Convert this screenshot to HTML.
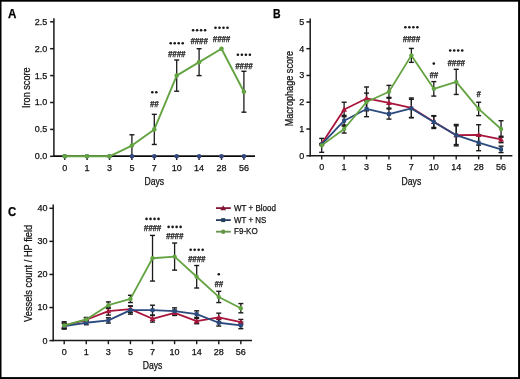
<!DOCTYPE html><html><head><meta charset="utf-8"><style>html,body{margin:0;padding:0;background:#fff;overflow:hidden;}svg{display:block;font-family:"Liberation Sans",sans-serif;will-change:transform;}</style></head><body>
<svg width="520" height="379" viewBox="0 0 520 379">
<rect x="0" y="0" width="520" height="379" fill="#fff"/>
<text x="12.1" y="18" font-size="12.5" text-anchor="middle" font-weight="bold" textLength="8.4" lengthAdjust="spacingAndGlyphs" fill="#000" stroke="#000" stroke-width="0.25" >A</text>
<line x1="53.9" y1="18.3" x2="53.9" y2="157" stroke="#1a1a1a" stroke-width="1.5" stroke-linecap="butt"/>
<line x1="50.1" y1="156.3" x2="53.9" y2="156.3" stroke="#1a1a1a" stroke-width="1.5" stroke-linecap="butt"/>
<text x="47.3" y="159.2" font-size="9" text-anchor="end" stroke="#262626" stroke-width="0.25" >0.0</text>
<line x1="50.1" y1="129.4" x2="53.9" y2="129.4" stroke="#1a1a1a" stroke-width="1.5" stroke-linecap="butt"/>
<text x="47.3" y="132.3" font-size="9" text-anchor="end" stroke="#262626" stroke-width="0.25" >0.5</text>
<line x1="50.1" y1="102.5" x2="53.9" y2="102.5" stroke="#1a1a1a" stroke-width="1.5" stroke-linecap="butt"/>
<text x="47.3" y="105.4" font-size="9" text-anchor="end" stroke="#262626" stroke-width="0.25" >1.0</text>
<line x1="50.1" y1="75.6" x2="53.9" y2="75.6" stroke="#1a1a1a" stroke-width="1.5" stroke-linecap="butt"/>
<text x="47.3" y="78.5" font-size="9" text-anchor="end" stroke="#262626" stroke-width="0.25" >1.5</text>
<line x1="50.1" y1="48.7" x2="53.9" y2="48.7" stroke="#1a1a1a" stroke-width="1.5" stroke-linecap="butt"/>
<text x="47.3" y="51.6" font-size="9" text-anchor="end" stroke="#262626" stroke-width="0.25" >2.0</text>
<line x1="50.1" y1="21.8" x2="53.9" y2="21.8" stroke="#1a1a1a" stroke-width="1.5" stroke-linecap="butt"/>
<text x="47.3" y="24.7" font-size="9" text-anchor="end" stroke="#262626" stroke-width="0.25" >2.5</text>
<line x1="53.15" y1="156.3" x2="255" y2="156.3" stroke="#1a1a1a" stroke-width="1.5" stroke-linecap="butt"/>
<line x1="64.7" y1="156.3" x2="64.7" y2="159.9" stroke="#1a1a1a" stroke-width="1.4" stroke-linecap="butt"/>
<text x="64.7" y="170.9" font-size="9" text-anchor="middle" stroke="#262626" stroke-width="0.25" >0</text>
<line x1="87.1" y1="156.3" x2="87.1" y2="159.9" stroke="#1a1a1a" stroke-width="1.4" stroke-linecap="butt"/>
<text x="87.1" y="170.9" font-size="9" text-anchor="middle" stroke="#262626" stroke-width="0.25" >1</text>
<line x1="109.5" y1="156.3" x2="109.5" y2="159.9" stroke="#1a1a1a" stroke-width="1.4" stroke-linecap="butt"/>
<text x="109.5" y="170.9" font-size="9" text-anchor="middle" stroke="#262626" stroke-width="0.25" >3</text>
<line x1="131.9" y1="156.3" x2="131.9" y2="159.9" stroke="#1a1a1a" stroke-width="1.4" stroke-linecap="butt"/>
<text x="131.9" y="170.9" font-size="9" text-anchor="middle" stroke="#262626" stroke-width="0.25" >5</text>
<line x1="154.3" y1="156.3" x2="154.3" y2="159.9" stroke="#1a1a1a" stroke-width="1.4" stroke-linecap="butt"/>
<text x="154.3" y="170.9" font-size="9" text-anchor="middle" stroke="#262626" stroke-width="0.25" >7</text>
<line x1="176.7" y1="156.3" x2="176.7" y2="159.9" stroke="#1a1a1a" stroke-width="1.4" stroke-linecap="butt"/>
<text x="176.7" y="170.9" font-size="9" text-anchor="middle" stroke="#262626" stroke-width="0.25" >10</text>
<line x1="199.1" y1="156.3" x2="199.1" y2="159.9" stroke="#1a1a1a" stroke-width="1.4" stroke-linecap="butt"/>
<text x="199.1" y="170.9" font-size="9" text-anchor="middle" stroke="#262626" stroke-width="0.25" >14</text>
<line x1="221.5" y1="156.3" x2="221.5" y2="159.9" stroke="#1a1a1a" stroke-width="1.4" stroke-linecap="butt"/>
<text x="221.5" y="170.9" font-size="9" text-anchor="middle" stroke="#262626" stroke-width="0.25" >28</text>
<line x1="243.9" y1="156.3" x2="243.9" y2="159.9" stroke="#1a1a1a" stroke-width="1.4" stroke-linecap="butt"/>
<text x="243.9" y="170.9" font-size="9" text-anchor="middle" stroke="#262626" stroke-width="0.25" >56</text>
<text x="154.3" y="185" font-size="10" text-anchor="middle" textLength="19.7" lengthAdjust="spacingAndGlyphs" stroke="#262626" stroke-width="0.25" >Days</text>
<text x="29.6" y="87.7" font-size="10" text-anchor="middle" textLength="40.6" lengthAdjust="spacingAndGlyphs" transform="rotate(-90 29.6 87.7)" stroke="#262626" stroke-width="0.25" >Iron score</text>
<line x1="131.9" y1="134.78" x2="131.9" y2="156.3" stroke="#1a1a1a" stroke-width="1.3" stroke-linecap="butt"/>
<line x1="129.4" y1="134.78" x2="134.4" y2="134.78" stroke="#1a1a1a" stroke-width="1.4" stroke-linecap="butt"/>
<line x1="129.4" y1="156.3" x2="134.4" y2="156.3" stroke="#1a1a1a" stroke-width="1.4" stroke-linecap="butt"/>
<line x1="154.3" y1="114.34" x2="154.3" y2="144.46" stroke="#1a1a1a" stroke-width="1.3" stroke-linecap="butt"/>
<line x1="151.8" y1="114.34" x2="156.8" y2="114.34" stroke="#1a1a1a" stroke-width="1.4" stroke-linecap="butt"/>
<line x1="151.8" y1="144.46" x2="156.8" y2="144.46" stroke="#1a1a1a" stroke-width="1.4" stroke-linecap="butt"/>
<line x1="176.7" y1="60" x2="176.7" y2="91.2" stroke="#1a1a1a" stroke-width="1.3" stroke-linecap="butt"/>
<line x1="174.2" y1="60" x2="179.2" y2="60" stroke="#1a1a1a" stroke-width="1.4" stroke-linecap="butt"/>
<line x1="174.2" y1="91.2" x2="179.2" y2="91.2" stroke="#1a1a1a" stroke-width="1.4" stroke-linecap="butt"/>
<line x1="199.1" y1="48.7" x2="199.1" y2="75.6" stroke="#1a1a1a" stroke-width="1.3" stroke-linecap="butt"/>
<line x1="196.6" y1="48.7" x2="201.6" y2="48.7" stroke="#1a1a1a" stroke-width="1.4" stroke-linecap="butt"/>
<line x1="196.6" y1="75.6" x2="201.6" y2="75.6" stroke="#1a1a1a" stroke-width="1.4" stroke-linecap="butt"/>
<line x1="243.9" y1="71.3" x2="243.9" y2="112.18" stroke="#1a1a1a" stroke-width="1.3" stroke-linecap="butt"/>
<line x1="241.4" y1="71.3" x2="246.4" y2="71.3" stroke="#1a1a1a" stroke-width="1.4" stroke-linecap="butt"/>
<line x1="241.4" y1="112.18" x2="246.4" y2="112.18" stroke="#1a1a1a" stroke-width="1.4" stroke-linecap="butt"/>
<line x1="53.9" y1="156.3" x2="255" y2="156.3" stroke="#0a0a0a" stroke-width="1.6" stroke-linecap="butt"/>
<circle cx="64.7" cy="156.3" r="2.3" fill="#34467e"/>
<circle cx="87.1" cy="156.3" r="2.3" fill="#34467e"/>
<circle cx="109.5" cy="156.3" r="2.3" fill="#34467e"/>
<circle cx="131.9" cy="156.3" r="2.3" fill="#34467e"/>
<circle cx="154.3" cy="156.3" r="2.3" fill="#34467e"/>
<circle cx="176.7" cy="156.3" r="2.3" fill="#34467e"/>
<circle cx="199.1" cy="156.3" r="2.3" fill="#34467e"/>
<circle cx="221.5" cy="156.3" r="2.3" fill="#34467e"/>
<circle cx="243.9" cy="156.3" r="2.3" fill="#34467e"/>
<polyline points="64.7,156.3 87.1,156.3 109.5,156.3 131.9,145.54 154.3,129.4 176.7,75.6 199.1,62.15 221.5,48.7 243.9,91.74" fill="none" stroke="#64a342" stroke-width="1.9" stroke-linejoin="round"/>
<circle cx="64.7" cy="156.3" r="2.3" fill="#64a342"/>
<circle cx="87.1" cy="156.3" r="2.3" fill="#64a342"/>
<circle cx="109.5" cy="156.3" r="2.3" fill="#64a342"/>
<circle cx="131.9" cy="145.54" r="2.3" fill="#64a342"/>
<circle cx="154.3" cy="129.4" r="2.3" fill="#64a342"/>
<circle cx="176.7" cy="75.6" r="2.3" fill="#64a342"/>
<circle cx="199.1" cy="62.15" r="2.3" fill="#64a342"/>
<circle cx="221.5" cy="48.7" r="2.3" fill="#64a342"/>
<circle cx="243.9" cy="91.74" r="2.3" fill="#64a342"/>
<circle cx="152.3" cy="92.2" r="1.3" fill="#151515"/>
<circle cx="156.3" cy="92.2" r="1.3" fill="#151515"/>
<text x="154.3" y="106.62" font-size="8.4" text-anchor="middle" textLength="8.6" lengthAdjust="spacingAndGlyphs" fill="#1a1a1a" stroke="#1a1a1a" stroke-width="0.25" font-style="italic" font-weight="bold">##</text>
<circle cx="170.7" cy="43.3" r="1.3" fill="#151515"/>
<circle cx="174.7" cy="43.3" r="1.3" fill="#151515"/>
<circle cx="178.7" cy="43.3" r="1.3" fill="#151515"/>
<circle cx="182.7" cy="43.3" r="1.3" fill="#151515"/>
<text x="176.7" y="56.92" font-size="8.4" text-anchor="middle" textLength="17.4" lengthAdjust="spacingAndGlyphs" fill="#1a1a1a" stroke="#1a1a1a" stroke-width="0.25" font-style="italic" font-weight="bold">####</text>
<circle cx="193.1" cy="30.2" r="1.3" fill="#151515"/>
<circle cx="197.1" cy="30.2" r="1.3" fill="#151515"/>
<circle cx="201.1" cy="30.2" r="1.3" fill="#151515"/>
<circle cx="205.1" cy="30.2" r="1.3" fill="#151515"/>
<text x="199.1" y="44.32" font-size="8.4" text-anchor="middle" textLength="17.4" lengthAdjust="spacingAndGlyphs" fill="#1a1a1a" stroke="#1a1a1a" stroke-width="0.25" font-style="italic" font-weight="bold">####</text>
<circle cx="215.5" cy="27.8" r="1.3" fill="#151515"/>
<circle cx="219.5" cy="27.8" r="1.3" fill="#151515"/>
<circle cx="223.5" cy="27.8" r="1.3" fill="#151515"/>
<circle cx="227.5" cy="27.8" r="1.3" fill="#151515"/>
<text x="221.5" y="41.92" font-size="8.4" text-anchor="middle" textLength="17.4" lengthAdjust="spacingAndGlyphs" fill="#1a1a1a" stroke="#1a1a1a" stroke-width="0.25" font-style="italic" font-weight="bold">####</text>
<circle cx="237.9" cy="54.7" r="1.3" fill="#151515"/>
<circle cx="241.9" cy="54.7" r="1.3" fill="#151515"/>
<circle cx="245.9" cy="54.7" r="1.3" fill="#151515"/>
<circle cx="249.9" cy="54.7" r="1.3" fill="#151515"/>
<text x="243.9" y="68.92" font-size="8.4" text-anchor="middle" textLength="17.4" lengthAdjust="spacingAndGlyphs" fill="#1a1a1a" stroke="#1a1a1a" stroke-width="0.25" font-style="italic" font-weight="bold">####</text>
<text x="276.8" y="18" font-size="12.5" text-anchor="middle" font-weight="bold" textLength="7.6" lengthAdjust="spacingAndGlyphs" fill="#000" stroke="#000" stroke-width="0.25" >B</text>
<line x1="310.2" y1="18.4" x2="310.2" y2="156.5" stroke="#1a1a1a" stroke-width="1.5" stroke-linecap="butt"/>
<line x1="306.4" y1="155.8" x2="310.2" y2="155.8" stroke="#1a1a1a" stroke-width="1.5" stroke-linecap="butt"/>
<text x="304.2" y="158.7" font-size="9" text-anchor="end" stroke="#262626" stroke-width="0.25" >0</text>
<line x1="306.4" y1="129.02" x2="310.2" y2="129.02" stroke="#1a1a1a" stroke-width="1.5" stroke-linecap="butt"/>
<text x="304.2" y="131.92" font-size="9" text-anchor="end" stroke="#262626" stroke-width="0.25" >1</text>
<line x1="306.4" y1="102.24" x2="310.2" y2="102.24" stroke="#1a1a1a" stroke-width="1.5" stroke-linecap="butt"/>
<text x="304.2" y="105.14" font-size="9" text-anchor="end" stroke="#262626" stroke-width="0.25" >2</text>
<line x1="306.4" y1="75.46" x2="310.2" y2="75.46" stroke="#1a1a1a" stroke-width="1.5" stroke-linecap="butt"/>
<text x="304.2" y="78.36" font-size="9" text-anchor="end" stroke="#262626" stroke-width="0.25" >3</text>
<line x1="306.4" y1="48.68" x2="310.2" y2="48.68" stroke="#1a1a1a" stroke-width="1.5" stroke-linecap="butt"/>
<text x="304.2" y="51.58" font-size="9" text-anchor="end" stroke="#262626" stroke-width="0.25" >4</text>
<line x1="306.4" y1="21.9" x2="310.2" y2="21.9" stroke="#1a1a1a" stroke-width="1.5" stroke-linecap="butt"/>
<text x="304.2" y="24.8" font-size="9" text-anchor="end" stroke="#262626" stroke-width="0.25" >5</text>
<line x1="309.45" y1="155.8" x2="512.4" y2="155.8" stroke="#1a1a1a" stroke-width="1.5" stroke-linecap="butt"/>
<line x1="321.7" y1="155.8" x2="321.7" y2="159.4" stroke="#1a1a1a" stroke-width="1.4" stroke-linecap="butt"/>
<text x="321.7" y="170.4" font-size="9" text-anchor="middle" stroke="#262626" stroke-width="0.25" >0</text>
<line x1="344.12" y1="155.8" x2="344.12" y2="159.4" stroke="#1a1a1a" stroke-width="1.4" stroke-linecap="butt"/>
<text x="344.12" y="170.4" font-size="9" text-anchor="middle" stroke="#262626" stroke-width="0.25" >1</text>
<line x1="366.54" y1="155.8" x2="366.54" y2="159.4" stroke="#1a1a1a" stroke-width="1.4" stroke-linecap="butt"/>
<text x="366.54" y="170.4" font-size="9" text-anchor="middle" stroke="#262626" stroke-width="0.25" >3</text>
<line x1="388.96" y1="155.8" x2="388.96" y2="159.4" stroke="#1a1a1a" stroke-width="1.4" stroke-linecap="butt"/>
<text x="388.96" y="170.4" font-size="9" text-anchor="middle" stroke="#262626" stroke-width="0.25" >5</text>
<line x1="411.38" y1="155.8" x2="411.38" y2="159.4" stroke="#1a1a1a" stroke-width="1.4" stroke-linecap="butt"/>
<text x="411.38" y="170.4" font-size="9" text-anchor="middle" stroke="#262626" stroke-width="0.25" >7</text>
<line x1="433.8" y1="155.8" x2="433.8" y2="159.4" stroke="#1a1a1a" stroke-width="1.4" stroke-linecap="butt"/>
<text x="433.8" y="170.4" font-size="9" text-anchor="middle" stroke="#262626" stroke-width="0.25" >10</text>
<line x1="456.22" y1="155.8" x2="456.22" y2="159.4" stroke="#1a1a1a" stroke-width="1.4" stroke-linecap="butt"/>
<text x="456.22" y="170.4" font-size="9" text-anchor="middle" stroke="#262626" stroke-width="0.25" >14</text>
<line x1="478.64" y1="155.8" x2="478.64" y2="159.4" stroke="#1a1a1a" stroke-width="1.4" stroke-linecap="butt"/>
<text x="478.64" y="170.4" font-size="9" text-anchor="middle" stroke="#262626" stroke-width="0.25" >28</text>
<line x1="501.06" y1="155.8" x2="501.06" y2="159.4" stroke="#1a1a1a" stroke-width="1.4" stroke-linecap="butt"/>
<text x="501.06" y="170.4" font-size="9" text-anchor="middle" stroke="#262626" stroke-width="0.25" >56</text>
<text x="411.38" y="184.5" font-size="10" text-anchor="middle" textLength="19.7" lengthAdjust="spacingAndGlyphs" stroke="#262626" stroke-width="0.25" >Days</text>
<text x="293.2" y="88.6" font-size="10" text-anchor="middle" textLength="75.5" lengthAdjust="spacingAndGlyphs" transform="rotate(-90 293.2 88.6)" stroke="#262626" stroke-width="0.25" >Macrophage score</text>
<line x1="321.7" y1="138.39" x2="321.7" y2="143.75" stroke="#1a1a1a" stroke-width="1.3" stroke-linecap="butt"/>
<line x1="319.2" y1="138.39" x2="324.2" y2="138.39" stroke="#1a1a1a" stroke-width="1.4" stroke-linecap="butt"/>
<line x1="319.2" y1="143.75" x2="324.2" y2="143.75" stroke="#1a1a1a" stroke-width="1.4" stroke-linecap="butt"/>
<line x1="344.12" y1="102.24" x2="344.12" y2="116.7" stroke="#1a1a1a" stroke-width="1.3" stroke-linecap="butt"/>
<line x1="341.62" y1="102.24" x2="346.62" y2="102.24" stroke="#1a1a1a" stroke-width="1.4" stroke-linecap="butt"/>
<line x1="341.62" y1="116.7" x2="346.62" y2="116.7" stroke="#1a1a1a" stroke-width="1.4" stroke-linecap="butt"/>
<line x1="366.54" y1="86.98" x2="366.54" y2="110.01" stroke="#1a1a1a" stroke-width="1.3" stroke-linecap="butt"/>
<line x1="364.04" y1="86.98" x2="369.04" y2="86.98" stroke="#1a1a1a" stroke-width="1.4" stroke-linecap="butt"/>
<line x1="364.04" y1="110.01" x2="369.04" y2="110.01" stroke="#1a1a1a" stroke-width="1.4" stroke-linecap="butt"/>
<line x1="388.96" y1="97.42" x2="388.96" y2="108.13" stroke="#1a1a1a" stroke-width="1.3" stroke-linecap="butt"/>
<line x1="386.46" y1="97.42" x2="391.46" y2="97.42" stroke="#1a1a1a" stroke-width="1.4" stroke-linecap="butt"/>
<line x1="386.46" y1="108.13" x2="391.46" y2="108.13" stroke="#1a1a1a" stroke-width="1.4" stroke-linecap="butt"/>
<line x1="411.38" y1="97.96" x2="411.38" y2="117.77" stroke="#1a1a1a" stroke-width="1.3" stroke-linecap="butt"/>
<line x1="408.88" y1="97.96" x2="413.88" y2="97.96" stroke="#1a1a1a" stroke-width="1.4" stroke-linecap="butt"/>
<line x1="408.88" y1="117.77" x2="413.88" y2="117.77" stroke="#1a1a1a" stroke-width="1.4" stroke-linecap="butt"/>
<line x1="433.8" y1="116.17" x2="433.8" y2="127.41" stroke="#1a1a1a" stroke-width="1.3" stroke-linecap="butt"/>
<line x1="431.3" y1="116.17" x2="436.3" y2="116.17" stroke="#1a1a1a" stroke-width="1.4" stroke-linecap="butt"/>
<line x1="431.3" y1="127.41" x2="436.3" y2="127.41" stroke="#1a1a1a" stroke-width="1.4" stroke-linecap="butt"/>
<line x1="456.22" y1="124.47" x2="456.22" y2="145.89" stroke="#1a1a1a" stroke-width="1.3" stroke-linecap="butt"/>
<line x1="453.72" y1="124.47" x2="458.72" y2="124.47" stroke="#1a1a1a" stroke-width="1.4" stroke-linecap="butt"/>
<line x1="453.72" y1="145.89" x2="458.72" y2="145.89" stroke="#1a1a1a" stroke-width="1.4" stroke-linecap="butt"/>
<line x1="478.64" y1="124.74" x2="478.64" y2="145.09" stroke="#1a1a1a" stroke-width="1.3" stroke-linecap="butt"/>
<line x1="476.14" y1="124.74" x2="481.14" y2="124.74" stroke="#1a1a1a" stroke-width="1.4" stroke-linecap="butt"/>
<line x1="476.14" y1="145.09" x2="481.14" y2="145.09" stroke="#1a1a1a" stroke-width="1.4" stroke-linecap="butt"/>
<line x1="501.06" y1="136.25" x2="501.06" y2="142.68" stroke="#1a1a1a" stroke-width="1.3" stroke-linecap="butt"/>
<line x1="498.56" y1="136.25" x2="503.56" y2="136.25" stroke="#1a1a1a" stroke-width="1.4" stroke-linecap="butt"/>
<line x1="498.56" y1="142.68" x2="503.56" y2="142.68" stroke="#1a1a1a" stroke-width="1.4" stroke-linecap="butt"/>
<line x1="321.7" y1="144.28" x2="321.7" y2="152.32" stroke="#1a1a1a" stroke-width="1.3" stroke-linecap="butt"/>
<line x1="319.2" y1="144.28" x2="324.2" y2="144.28" stroke="#1a1a1a" stroke-width="1.4" stroke-linecap="butt"/>
<line x1="319.2" y1="152.32" x2="324.2" y2="152.32" stroke="#1a1a1a" stroke-width="1.4" stroke-linecap="butt"/>
<line x1="344.12" y1="115.36" x2="344.12" y2="126.07" stroke="#1a1a1a" stroke-width="1.3" stroke-linecap="butt"/>
<line x1="341.62" y1="115.36" x2="346.62" y2="115.36" stroke="#1a1a1a" stroke-width="1.4" stroke-linecap="butt"/>
<line x1="341.62" y1="126.07" x2="346.62" y2="126.07" stroke="#1a1a1a" stroke-width="1.4" stroke-linecap="butt"/>
<line x1="366.54" y1="101.17" x2="366.54" y2="116.7" stroke="#1a1a1a" stroke-width="1.3" stroke-linecap="butt"/>
<line x1="364.04" y1="101.17" x2="369.04" y2="101.17" stroke="#1a1a1a" stroke-width="1.4" stroke-linecap="butt"/>
<line x1="364.04" y1="116.7" x2="369.04" y2="116.7" stroke="#1a1a1a" stroke-width="1.4" stroke-linecap="butt"/>
<line x1="388.96" y1="108.94" x2="388.96" y2="119.11" stroke="#1a1a1a" stroke-width="1.3" stroke-linecap="butt"/>
<line x1="386.46" y1="108.94" x2="391.46" y2="108.94" stroke="#1a1a1a" stroke-width="1.4" stroke-linecap="butt"/>
<line x1="386.46" y1="119.11" x2="391.46" y2="119.11" stroke="#1a1a1a" stroke-width="1.4" stroke-linecap="butt"/>
<line x1="411.38" y1="99.29" x2="411.38" y2="117.5" stroke="#1a1a1a" stroke-width="1.3" stroke-linecap="butt"/>
<line x1="408.88" y1="99.29" x2="413.88" y2="99.29" stroke="#1a1a1a" stroke-width="1.4" stroke-linecap="butt"/>
<line x1="408.88" y1="117.5" x2="413.88" y2="117.5" stroke="#1a1a1a" stroke-width="1.4" stroke-linecap="butt"/>
<line x1="433.8" y1="115.63" x2="433.8" y2="128.48" stroke="#1a1a1a" stroke-width="1.3" stroke-linecap="butt"/>
<line x1="431.3" y1="115.63" x2="436.3" y2="115.63" stroke="#1a1a1a" stroke-width="1.4" stroke-linecap="butt"/>
<line x1="431.3" y1="128.48" x2="436.3" y2="128.48" stroke="#1a1a1a" stroke-width="1.4" stroke-linecap="butt"/>
<line x1="456.22" y1="125.81" x2="456.22" y2="144.55" stroke="#1a1a1a" stroke-width="1.3" stroke-linecap="butt"/>
<line x1="453.72" y1="125.81" x2="458.72" y2="125.81" stroke="#1a1a1a" stroke-width="1.4" stroke-linecap="butt"/>
<line x1="453.72" y1="144.55" x2="458.72" y2="144.55" stroke="#1a1a1a" stroke-width="1.4" stroke-linecap="butt"/>
<line x1="478.64" y1="134.64" x2="478.64" y2="150.71" stroke="#1a1a1a" stroke-width="1.3" stroke-linecap="butt"/>
<line x1="476.14" y1="134.64" x2="481.14" y2="134.64" stroke="#1a1a1a" stroke-width="1.4" stroke-linecap="butt"/>
<line x1="476.14" y1="150.71" x2="481.14" y2="150.71" stroke="#1a1a1a" stroke-width="1.4" stroke-linecap="butt"/>
<line x1="501.06" y1="146.16" x2="501.06" y2="152.59" stroke="#1a1a1a" stroke-width="1.3" stroke-linecap="butt"/>
<line x1="498.56" y1="146.16" x2="503.56" y2="146.16" stroke="#1a1a1a" stroke-width="1.4" stroke-linecap="butt"/>
<line x1="498.56" y1="152.59" x2="503.56" y2="152.59" stroke="#1a1a1a" stroke-width="1.4" stroke-linecap="butt"/>
<line x1="344.12" y1="125" x2="344.12" y2="133.04" stroke="#1a1a1a" stroke-width="1.3" stroke-linecap="butt"/>
<line x1="341.62" y1="125" x2="346.62" y2="125" stroke="#1a1a1a" stroke-width="1.4" stroke-linecap="butt"/>
<line x1="341.62" y1="133.04" x2="346.62" y2="133.04" stroke="#1a1a1a" stroke-width="1.4" stroke-linecap="butt"/>
<line x1="366.54" y1="93.13" x2="366.54" y2="110.81" stroke="#1a1a1a" stroke-width="1.3" stroke-linecap="butt"/>
<line x1="364.04" y1="93.13" x2="369.04" y2="93.13" stroke="#1a1a1a" stroke-width="1.4" stroke-linecap="butt"/>
<line x1="364.04" y1="110.81" x2="369.04" y2="110.81" stroke="#1a1a1a" stroke-width="1.4" stroke-linecap="butt"/>
<line x1="388.96" y1="85.37" x2="388.96" y2="98.22" stroke="#1a1a1a" stroke-width="1.3" stroke-linecap="butt"/>
<line x1="386.46" y1="85.37" x2="391.46" y2="85.37" stroke="#1a1a1a" stroke-width="1.4" stroke-linecap="butt"/>
<line x1="386.46" y1="98.22" x2="391.46" y2="98.22" stroke="#1a1a1a" stroke-width="1.4" stroke-linecap="butt"/>
<line x1="411.38" y1="48.41" x2="411.38" y2="62.34" stroke="#1a1a1a" stroke-width="1.3" stroke-linecap="butt"/>
<line x1="408.88" y1="48.41" x2="413.88" y2="48.41" stroke="#1a1a1a" stroke-width="1.4" stroke-linecap="butt"/>
<line x1="408.88" y1="62.34" x2="413.88" y2="62.34" stroke="#1a1a1a" stroke-width="1.4" stroke-linecap="butt"/>
<line x1="433.8" y1="81.62" x2="433.8" y2="96.08" stroke="#1a1a1a" stroke-width="1.3" stroke-linecap="butt"/>
<line x1="431.3" y1="81.62" x2="436.3" y2="81.62" stroke="#1a1a1a" stroke-width="1.4" stroke-linecap="butt"/>
<line x1="431.3" y1="96.08" x2="436.3" y2="96.08" stroke="#1a1a1a" stroke-width="1.4" stroke-linecap="butt"/>
<line x1="456.22" y1="69.3" x2="456.22" y2="94.47" stroke="#1a1a1a" stroke-width="1.3" stroke-linecap="butt"/>
<line x1="453.72" y1="69.3" x2="458.72" y2="69.3" stroke="#1a1a1a" stroke-width="1.4" stroke-linecap="butt"/>
<line x1="453.72" y1="94.47" x2="458.72" y2="94.47" stroke="#1a1a1a" stroke-width="1.4" stroke-linecap="butt"/>
<line x1="478.64" y1="102.24" x2="478.64" y2="115.63" stroke="#1a1a1a" stroke-width="1.3" stroke-linecap="butt"/>
<line x1="476.14" y1="102.24" x2="481.14" y2="102.24" stroke="#1a1a1a" stroke-width="1.4" stroke-linecap="butt"/>
<line x1="476.14" y1="115.63" x2="481.14" y2="115.63" stroke="#1a1a1a" stroke-width="1.4" stroke-linecap="butt"/>
<line x1="501.06" y1="120.72" x2="501.06" y2="137.32" stroke="#1a1a1a" stroke-width="1.3" stroke-linecap="butt"/>
<line x1="498.56" y1="120.72" x2="503.56" y2="120.72" stroke="#1a1a1a" stroke-width="1.4" stroke-linecap="butt"/>
<line x1="498.56" y1="137.32" x2="503.56" y2="137.32" stroke="#1a1a1a" stroke-width="1.4" stroke-linecap="butt"/>
<polyline points="321.7,143.75 344.12,109.47 366.54,98.49 388.96,102.78 411.38,107.86 433.8,121.79 456.22,135.18 478.64,134.91 501.06,139.46" fill="none" stroke="#a8163c" stroke-width="1.8" stroke-linejoin="round"/>
<polygon points="321.7,140.85 324.6,145.93 318.8,145.93" fill="#a8163c"/>
<polygon points="344.12,106.57 347.02,111.65 341.22,111.65" fill="#a8163c"/>
<polygon points="366.54,95.59 369.44,100.67 363.64,100.67" fill="#a8163c"/>
<polygon points="388.96,99.87 391.86,104.95 386.06,104.95" fill="#a8163c"/>
<polygon points="411.38,104.96 414.28,110.04 408.48,110.04" fill="#a8163c"/>
<polygon points="433.8,118.89 436.7,123.97 430.9,123.97" fill="#a8163c"/>
<polygon points="456.22,132.28 459.12,137.36 453.32,137.36" fill="#a8163c"/>
<polygon points="478.64,132.01 481.54,137.09 475.74,137.09" fill="#a8163c"/>
<polygon points="501.06,136.56 503.96,141.64 498.16,141.64" fill="#a8163c"/>
<polyline points="321.7,144.28 344.12,120.72 366.54,108.94 388.96,114.02 411.38,108.4 433.8,122.06 456.22,135.18 478.64,142.68 501.06,149.37" fill="none" stroke="#2b4b7e" stroke-width="1.8" stroke-linejoin="round"/>
<rect x="319.72" y="142.3" width="3.96" height="3.96" fill="#2b4b7e"/>
<rect x="342.14" y="118.74" width="3.96" height="3.96" fill="#2b4b7e"/>
<rect x="364.56" y="106.95" width="3.96" height="3.96" fill="#2b4b7e"/>
<rect x="386.98" y="112.04" width="3.96" height="3.96" fill="#2b4b7e"/>
<rect x="409.4" y="106.42" width="3.96" height="3.96" fill="#2b4b7e"/>
<rect x="431.82" y="120.08" width="3.96" height="3.96" fill="#2b4b7e"/>
<rect x="454.24" y="133.2" width="3.96" height="3.96" fill="#2b4b7e"/>
<rect x="476.66" y="140.7" width="3.96" height="3.96" fill="#2b4b7e"/>
<rect x="499.08" y="147.39" width="3.96" height="3.96" fill="#2b4b7e"/>
<polyline points="321.7,145.36 344.12,129.02 366.54,101.97 388.96,91.8 411.38,55.38 433.8,88.85 456.22,81.89 478.64,108.94 501.06,129.02" fill="none" stroke="#64a342" stroke-width="1.8" stroke-linejoin="round"/>
<circle cx="321.7" cy="145.36" r="2.2" fill="#64a342"/>
<circle cx="344.12" cy="129.02" r="2.2" fill="#64a342"/>
<circle cx="366.54" cy="101.97" r="2.2" fill="#64a342"/>
<circle cx="388.96" cy="91.8" r="2.2" fill="#64a342"/>
<circle cx="411.38" cy="55.38" r="2.2" fill="#64a342"/>
<circle cx="433.8" cy="88.85" r="2.2" fill="#64a342"/>
<circle cx="456.22" cy="81.89" r="2.2" fill="#64a342"/>
<circle cx="478.64" cy="108.94" r="2.2" fill="#64a342"/>
<circle cx="501.06" cy="129.02" r="2.2" fill="#64a342"/>
<circle cx="405.38" cy="27.3" r="1.3" fill="#151515"/>
<circle cx="409.38" cy="27.3" r="1.3" fill="#151515"/>
<circle cx="413.38" cy="27.3" r="1.3" fill="#151515"/>
<circle cx="417.38" cy="27.3" r="1.3" fill="#151515"/>
<text x="411.38" y="41.82" font-size="8.4" text-anchor="middle" textLength="17.4" lengthAdjust="spacingAndGlyphs" fill="#1a1a1a" stroke="#1a1a1a" stroke-width="0.25" font-style="italic" font-weight="bold">####</text>
<circle cx="433.8" cy="63.6" r="1.3" fill="#151515"/>
<text x="433.8" y="77.52" font-size="8.4" text-anchor="middle" textLength="8.6" lengthAdjust="spacingAndGlyphs" fill="#1a1a1a" stroke="#1a1a1a" stroke-width="0.25" font-style="italic" font-weight="bold">##</text>
<circle cx="450.22" cy="50.5" r="1.3" fill="#151515"/>
<circle cx="454.22" cy="50.5" r="1.3" fill="#151515"/>
<circle cx="458.22" cy="50.5" r="1.3" fill="#151515"/>
<circle cx="462.22" cy="50.5" r="1.3" fill="#151515"/>
<text x="456.22" y="65.62" font-size="8.4" text-anchor="middle" textLength="17.4" lengthAdjust="spacingAndGlyphs" fill="#1a1a1a" stroke="#1a1a1a" stroke-width="0.25" font-style="italic" font-weight="bold">####</text>
<text x="478.64" y="96.72" font-size="8.4" text-anchor="middle" textLength="4.2" lengthAdjust="spacingAndGlyphs" fill="#1a1a1a" stroke="#1a1a1a" stroke-width="0.25" font-style="italic" font-weight="bold">#</text>
<text x="12.2" y="216.2" font-size="12.5" text-anchor="middle" font-weight="bold" textLength="8.2" lengthAdjust="spacingAndGlyphs" fill="#000" stroke="#000" stroke-width="0.25" >C</text>
<line x1="53.2" y1="204.5" x2="53.2" y2="341.3" stroke="#1a1a1a" stroke-width="1.5" stroke-linecap="butt"/>
<line x1="49.4" y1="340.6" x2="53.2" y2="340.6" stroke="#1a1a1a" stroke-width="1.5" stroke-linecap="butt"/>
<text x="47.4" y="343.5" font-size="9" text-anchor="end" stroke="#262626" stroke-width="0.25" >0</text>
<line x1="49.4" y1="307.53" x2="53.2" y2="307.53" stroke="#1a1a1a" stroke-width="1.5" stroke-linecap="butt"/>
<text x="47.4" y="310.43" font-size="9" text-anchor="end" stroke="#262626" stroke-width="0.25" >10</text>
<line x1="49.4" y1="274.45" x2="53.2" y2="274.45" stroke="#1a1a1a" stroke-width="1.5" stroke-linecap="butt"/>
<text x="47.4" y="277.35" font-size="9" text-anchor="end" stroke="#262626" stroke-width="0.25" >20</text>
<line x1="49.4" y1="241.38" x2="53.2" y2="241.38" stroke="#1a1a1a" stroke-width="1.5" stroke-linecap="butt"/>
<text x="47.4" y="244.28" font-size="9" text-anchor="end" stroke="#262626" stroke-width="0.25" >30</text>
<line x1="49.4" y1="208.3" x2="53.2" y2="208.3" stroke="#1a1a1a" stroke-width="1.5" stroke-linecap="butt"/>
<text x="47.4" y="211.2" font-size="9" text-anchor="end" stroke="#262626" stroke-width="0.25" >40</text>
<line x1="52.45" y1="340.6" x2="252" y2="340.6" stroke="#1a1a1a" stroke-width="1.5" stroke-linecap="butt"/>
<line x1="64.2" y1="340.6" x2="64.2" y2="344.2" stroke="#1a1a1a" stroke-width="1.4" stroke-linecap="butt"/>
<text x="64.2" y="355.2" font-size="9" text-anchor="middle" stroke="#262626" stroke-width="0.25" >0</text>
<line x1="86.28" y1="340.6" x2="86.28" y2="344.2" stroke="#1a1a1a" stroke-width="1.4" stroke-linecap="butt"/>
<text x="86.28" y="355.2" font-size="9" text-anchor="middle" stroke="#262626" stroke-width="0.25" >1</text>
<line x1="108.36" y1="340.6" x2="108.36" y2="344.2" stroke="#1a1a1a" stroke-width="1.4" stroke-linecap="butt"/>
<text x="108.36" y="355.2" font-size="9" text-anchor="middle" stroke="#262626" stroke-width="0.25" >3</text>
<line x1="130.44" y1="340.6" x2="130.44" y2="344.2" stroke="#1a1a1a" stroke-width="1.4" stroke-linecap="butt"/>
<text x="130.44" y="355.2" font-size="9" text-anchor="middle" stroke="#262626" stroke-width="0.25" >5</text>
<line x1="152.52" y1="340.6" x2="152.52" y2="344.2" stroke="#1a1a1a" stroke-width="1.4" stroke-linecap="butt"/>
<text x="152.52" y="355.2" font-size="9" text-anchor="middle" stroke="#262626" stroke-width="0.25" >7</text>
<line x1="174.6" y1="340.6" x2="174.6" y2="344.2" stroke="#1a1a1a" stroke-width="1.4" stroke-linecap="butt"/>
<text x="174.6" y="355.2" font-size="9" text-anchor="middle" stroke="#262626" stroke-width="0.25" >10</text>
<line x1="196.68" y1="340.6" x2="196.68" y2="344.2" stroke="#1a1a1a" stroke-width="1.4" stroke-linecap="butt"/>
<text x="196.68" y="355.2" font-size="9" text-anchor="middle" stroke="#262626" stroke-width="0.25" >14</text>
<line x1="218.76" y1="340.6" x2="218.76" y2="344.2" stroke="#1a1a1a" stroke-width="1.4" stroke-linecap="butt"/>
<text x="218.76" y="355.2" font-size="9" text-anchor="middle" stroke="#262626" stroke-width="0.25" >28</text>
<line x1="240.84" y1="340.6" x2="240.84" y2="344.2" stroke="#1a1a1a" stroke-width="1.4" stroke-linecap="butt"/>
<text x="240.84" y="355.2" font-size="9" text-anchor="middle" stroke="#262626" stroke-width="0.25" >56</text>
<text x="152.52" y="369.3" font-size="10" text-anchor="middle" textLength="19.7" lengthAdjust="spacingAndGlyphs" stroke="#262626" stroke-width="0.25" >Days</text>
<text x="31.6" y="273.4" font-size="10" text-anchor="middle" textLength="97" lengthAdjust="spacingAndGlyphs" transform="rotate(-90 31.6 273.4)" stroke="#262626" stroke-width="0.25" >Vessels count / HP field</text>
<line x1="64.2" y1="323.07" x2="64.2" y2="328.36" stroke="#1a1a1a" stroke-width="1.3" stroke-linecap="butt"/>
<line x1="61.7" y1="323.07" x2="66.7" y2="323.07" stroke="#1a1a1a" stroke-width="1.4" stroke-linecap="butt"/>
<line x1="61.7" y1="328.36" x2="66.7" y2="328.36" stroke="#1a1a1a" stroke-width="1.4" stroke-linecap="butt"/>
<line x1="86.28" y1="317.78" x2="86.28" y2="321.75" stroke="#1a1a1a" stroke-width="1.3" stroke-linecap="butt"/>
<line x1="83.78" y1="317.78" x2="88.78" y2="317.78" stroke="#1a1a1a" stroke-width="1.4" stroke-linecap="butt"/>
<line x1="83.78" y1="321.75" x2="88.78" y2="321.75" stroke="#1a1a1a" stroke-width="1.4" stroke-linecap="butt"/>
<line x1="108.36" y1="307.19" x2="108.36" y2="315.13" stroke="#1a1a1a" stroke-width="1.3" stroke-linecap="butt"/>
<line x1="105.86" y1="307.19" x2="110.86" y2="307.19" stroke="#1a1a1a" stroke-width="1.4" stroke-linecap="butt"/>
<line x1="105.86" y1="315.13" x2="110.86" y2="315.13" stroke="#1a1a1a" stroke-width="1.4" stroke-linecap="butt"/>
<line x1="130.44" y1="305.87" x2="130.44" y2="312.49" stroke="#1a1a1a" stroke-width="1.3" stroke-linecap="butt"/>
<line x1="127.94" y1="305.87" x2="132.94" y2="305.87" stroke="#1a1a1a" stroke-width="1.4" stroke-linecap="butt"/>
<line x1="127.94" y1="312.49" x2="132.94" y2="312.49" stroke="#1a1a1a" stroke-width="1.4" stroke-linecap="butt"/>
<line x1="152.52" y1="315.46" x2="152.52" y2="322.08" stroke="#1a1a1a" stroke-width="1.3" stroke-linecap="butt"/>
<line x1="150.02" y1="315.46" x2="155.02" y2="315.46" stroke="#1a1a1a" stroke-width="1.4" stroke-linecap="butt"/>
<line x1="150.02" y1="322.08" x2="155.02" y2="322.08" stroke="#1a1a1a" stroke-width="1.4" stroke-linecap="butt"/>
<line x1="174.6" y1="310.17" x2="174.6" y2="315.46" stroke="#1a1a1a" stroke-width="1.3" stroke-linecap="butt"/>
<line x1="172.1" y1="310.17" x2="177.1" y2="310.17" stroke="#1a1a1a" stroke-width="1.4" stroke-linecap="butt"/>
<line x1="172.1" y1="315.46" x2="177.1" y2="315.46" stroke="#1a1a1a" stroke-width="1.4" stroke-linecap="butt"/>
<line x1="196.68" y1="318.44" x2="196.68" y2="323.73" stroke="#1a1a1a" stroke-width="1.3" stroke-linecap="butt"/>
<line x1="194.18" y1="318.44" x2="199.18" y2="318.44" stroke="#1a1a1a" stroke-width="1.4" stroke-linecap="butt"/>
<line x1="194.18" y1="323.73" x2="199.18" y2="323.73" stroke="#1a1a1a" stroke-width="1.4" stroke-linecap="butt"/>
<line x1="218.76" y1="313.15" x2="218.76" y2="321.75" stroke="#1a1a1a" stroke-width="1.3" stroke-linecap="butt"/>
<line x1="216.26" y1="313.15" x2="221.26" y2="313.15" stroke="#1a1a1a" stroke-width="1.4" stroke-linecap="butt"/>
<line x1="216.26" y1="321.75" x2="221.26" y2="321.75" stroke="#1a1a1a" stroke-width="1.4" stroke-linecap="butt"/>
<line x1="240.84" y1="319.43" x2="240.84" y2="324.72" stroke="#1a1a1a" stroke-width="1.3" stroke-linecap="butt"/>
<line x1="238.34" y1="319.43" x2="243.34" y2="319.43" stroke="#1a1a1a" stroke-width="1.4" stroke-linecap="butt"/>
<line x1="238.34" y1="324.72" x2="243.34" y2="324.72" stroke="#1a1a1a" stroke-width="1.4" stroke-linecap="butt"/>
<line x1="64.2" y1="323.4" x2="64.2" y2="328.69" stroke="#1a1a1a" stroke-width="1.3" stroke-linecap="butt"/>
<line x1="61.7" y1="323.4" x2="66.7" y2="323.4" stroke="#1a1a1a" stroke-width="1.4" stroke-linecap="butt"/>
<line x1="61.7" y1="328.69" x2="66.7" y2="328.69" stroke="#1a1a1a" stroke-width="1.4" stroke-linecap="butt"/>
<line x1="86.28" y1="320.75" x2="86.28" y2="324.72" stroke="#1a1a1a" stroke-width="1.3" stroke-linecap="butt"/>
<line x1="83.78" y1="320.75" x2="88.78" y2="320.75" stroke="#1a1a1a" stroke-width="1.4" stroke-linecap="butt"/>
<line x1="83.78" y1="324.72" x2="88.78" y2="324.72" stroke="#1a1a1a" stroke-width="1.4" stroke-linecap="butt"/>
<line x1="108.36" y1="317.78" x2="108.36" y2="323.07" stroke="#1a1a1a" stroke-width="1.3" stroke-linecap="butt"/>
<line x1="105.86" y1="317.78" x2="110.86" y2="317.78" stroke="#1a1a1a" stroke-width="1.4" stroke-linecap="butt"/>
<line x1="105.86" y1="323.07" x2="110.86" y2="323.07" stroke="#1a1a1a" stroke-width="1.4" stroke-linecap="butt"/>
<line x1="130.44" y1="306.2" x2="130.44" y2="314.14" stroke="#1a1a1a" stroke-width="1.3" stroke-linecap="butt"/>
<line x1="127.94" y1="306.2" x2="132.94" y2="306.2" stroke="#1a1a1a" stroke-width="1.4" stroke-linecap="butt"/>
<line x1="127.94" y1="314.14" x2="132.94" y2="314.14" stroke="#1a1a1a" stroke-width="1.4" stroke-linecap="butt"/>
<line x1="152.52" y1="305.21" x2="152.52" y2="315.13" stroke="#1a1a1a" stroke-width="1.3" stroke-linecap="butt"/>
<line x1="150.02" y1="305.21" x2="155.02" y2="305.21" stroke="#1a1a1a" stroke-width="1.4" stroke-linecap="butt"/>
<line x1="150.02" y1="315.13" x2="155.02" y2="315.13" stroke="#1a1a1a" stroke-width="1.4" stroke-linecap="butt"/>
<line x1="174.6" y1="307.86" x2="174.6" y2="314.47" stroke="#1a1a1a" stroke-width="1.3" stroke-linecap="butt"/>
<line x1="172.1" y1="307.86" x2="177.1" y2="307.86" stroke="#1a1a1a" stroke-width="1.4" stroke-linecap="butt"/>
<line x1="172.1" y1="314.47" x2="177.1" y2="314.47" stroke="#1a1a1a" stroke-width="1.4" stroke-linecap="butt"/>
<line x1="196.68" y1="310.83" x2="196.68" y2="317.45" stroke="#1a1a1a" stroke-width="1.3" stroke-linecap="butt"/>
<line x1="194.18" y1="310.83" x2="199.18" y2="310.83" stroke="#1a1a1a" stroke-width="1.4" stroke-linecap="butt"/>
<line x1="194.18" y1="317.45" x2="199.18" y2="317.45" stroke="#1a1a1a" stroke-width="1.4" stroke-linecap="butt"/>
<line x1="218.76" y1="319.43" x2="218.76" y2="326.05" stroke="#1a1a1a" stroke-width="1.3" stroke-linecap="butt"/>
<line x1="216.26" y1="319.43" x2="221.26" y2="319.43" stroke="#1a1a1a" stroke-width="1.4" stroke-linecap="butt"/>
<line x1="216.26" y1="326.05" x2="221.26" y2="326.05" stroke="#1a1a1a" stroke-width="1.4" stroke-linecap="butt"/>
<line x1="240.84" y1="322.08" x2="240.84" y2="328.69" stroke="#1a1a1a" stroke-width="1.3" stroke-linecap="butt"/>
<line x1="238.34" y1="322.08" x2="243.34" y2="322.08" stroke="#1a1a1a" stroke-width="1.4" stroke-linecap="butt"/>
<line x1="238.34" y1="328.69" x2="243.34" y2="328.69" stroke="#1a1a1a" stroke-width="1.4" stroke-linecap="butt"/>
<line x1="64.2" y1="321.75" x2="64.2" y2="329.02" stroke="#1a1a1a" stroke-width="1.3" stroke-linecap="butt"/>
<line x1="61.7" y1="321.75" x2="66.7" y2="321.75" stroke="#1a1a1a" stroke-width="1.4" stroke-linecap="butt"/>
<line x1="61.7" y1="329.02" x2="66.7" y2="329.02" stroke="#1a1a1a" stroke-width="1.4" stroke-linecap="butt"/>
<line x1="86.28" y1="317.45" x2="86.28" y2="321.42" stroke="#1a1a1a" stroke-width="1.3" stroke-linecap="butt"/>
<line x1="83.78" y1="317.45" x2="88.78" y2="317.45" stroke="#1a1a1a" stroke-width="1.4" stroke-linecap="butt"/>
<line x1="83.78" y1="321.42" x2="88.78" y2="321.42" stroke="#1a1a1a" stroke-width="1.4" stroke-linecap="butt"/>
<line x1="108.36" y1="301.9" x2="108.36" y2="308.52" stroke="#1a1a1a" stroke-width="1.3" stroke-linecap="butt"/>
<line x1="105.86" y1="301.9" x2="110.86" y2="301.9" stroke="#1a1a1a" stroke-width="1.4" stroke-linecap="butt"/>
<line x1="105.86" y1="308.52" x2="110.86" y2="308.52" stroke="#1a1a1a" stroke-width="1.4" stroke-linecap="butt"/>
<line x1="130.44" y1="295.29" x2="130.44" y2="302.56" stroke="#1a1a1a" stroke-width="1.3" stroke-linecap="butt"/>
<line x1="127.94" y1="295.29" x2="132.94" y2="295.29" stroke="#1a1a1a" stroke-width="1.4" stroke-linecap="butt"/>
<line x1="127.94" y1="302.56" x2="132.94" y2="302.56" stroke="#1a1a1a" stroke-width="1.4" stroke-linecap="butt"/>
<line x1="152.52" y1="235.42" x2="152.52" y2="281.06" stroke="#1a1a1a" stroke-width="1.3" stroke-linecap="butt"/>
<line x1="150.02" y1="235.42" x2="155.02" y2="235.42" stroke="#1a1a1a" stroke-width="1.4" stroke-linecap="butt"/>
<line x1="150.02" y1="281.06" x2="155.02" y2="281.06" stroke="#1a1a1a" stroke-width="1.4" stroke-linecap="butt"/>
<line x1="174.6" y1="243.03" x2="174.6" y2="270.15" stroke="#1a1a1a" stroke-width="1.3" stroke-linecap="butt"/>
<line x1="172.1" y1="243.03" x2="177.1" y2="243.03" stroke="#1a1a1a" stroke-width="1.4" stroke-linecap="butt"/>
<line x1="172.1" y1="270.15" x2="177.1" y2="270.15" stroke="#1a1a1a" stroke-width="1.4" stroke-linecap="butt"/>
<line x1="196.68" y1="265.52" x2="196.68" y2="288.01" stroke="#1a1a1a" stroke-width="1.3" stroke-linecap="butt"/>
<line x1="194.18" y1="265.52" x2="199.18" y2="265.52" stroke="#1a1a1a" stroke-width="1.4" stroke-linecap="butt"/>
<line x1="194.18" y1="288.01" x2="199.18" y2="288.01" stroke="#1a1a1a" stroke-width="1.4" stroke-linecap="butt"/>
<line x1="218.76" y1="291.32" x2="218.76" y2="302.56" stroke="#1a1a1a" stroke-width="1.3" stroke-linecap="butt"/>
<line x1="216.26" y1="291.32" x2="221.26" y2="291.32" stroke="#1a1a1a" stroke-width="1.4" stroke-linecap="butt"/>
<line x1="216.26" y1="302.56" x2="221.26" y2="302.56" stroke="#1a1a1a" stroke-width="1.4" stroke-linecap="butt"/>
<line x1="240.84" y1="303.56" x2="240.84" y2="312.82" stroke="#1a1a1a" stroke-width="1.3" stroke-linecap="butt"/>
<line x1="238.34" y1="303.56" x2="243.34" y2="303.56" stroke="#1a1a1a" stroke-width="1.4" stroke-linecap="butt"/>
<line x1="238.34" y1="312.82" x2="243.34" y2="312.82" stroke="#1a1a1a" stroke-width="1.4" stroke-linecap="butt"/>
<polyline points="64.2,325.72 86.28,319.76 108.36,311.16 130.44,309.18 152.52,318.77 174.6,312.82 196.68,321.09 218.76,317.45 240.84,322.08" fill="none" stroke="#a8163c" stroke-width="1.8" stroke-linejoin="round"/>
<polygon points="64.2,322.81 67.1,327.89 61.3,327.89" fill="#a8163c"/>
<polygon points="86.28,316.86 89.18,321.94 83.38,321.94" fill="#a8163c"/>
<polygon points="108.36,308.26 111.26,313.34 105.46,313.34" fill="#a8163c"/>
<polygon points="130.44,306.27 133.34,311.36 127.54,311.36" fill="#a8163c"/>
<polygon points="152.52,315.87 155.42,320.95 149.62,320.95" fill="#a8163c"/>
<polygon points="174.6,309.91 177.5,315 171.7,315" fill="#a8163c"/>
<polygon points="196.68,318.18 199.58,323.26 193.78,323.26" fill="#a8163c"/>
<polygon points="218.76,314.54 221.66,319.63 215.86,319.63" fill="#a8163c"/>
<polygon points="240.84,319.17 243.74,324.26 237.94,324.26" fill="#a8163c"/>
<polyline points="64.2,326.05 86.28,322.74 108.36,320.42 130.44,310.17 152.52,310.17 174.6,311.16 196.68,314.14 218.76,322.74 240.84,325.39" fill="none" stroke="#2b4b7e" stroke-width="1.8" stroke-linejoin="round"/>
<rect x="62.22" y="324.07" width="3.96" height="3.96" fill="#2b4b7e"/>
<rect x="84.3" y="320.76" width="3.96" height="3.96" fill="#2b4b7e"/>
<rect x="106.38" y="318.44" width="3.96" height="3.96" fill="#2b4b7e"/>
<rect x="128.46" y="308.19" width="3.96" height="3.96" fill="#2b4b7e"/>
<rect x="150.54" y="308.19" width="3.96" height="3.96" fill="#2b4b7e"/>
<rect x="172.62" y="309.18" width="3.96" height="3.96" fill="#2b4b7e"/>
<rect x="194.7" y="312.16" width="3.96" height="3.96" fill="#2b4b7e"/>
<rect x="216.78" y="320.76" width="3.96" height="3.96" fill="#2b4b7e"/>
<rect x="238.86" y="323.41" width="3.96" height="3.96" fill="#2b4b7e"/>
<polyline points="64.2,325.39 86.28,319.43 108.36,305.21 130.44,298.93 152.52,258.24 174.6,256.59 196.68,276.77 218.76,296.94 240.84,308.19" fill="none" stroke="#64a342" stroke-width="1.8" stroke-linejoin="round"/>
<circle cx="64.2" cy="325.39" r="2.2" fill="#64a342"/>
<circle cx="86.28" cy="319.43" r="2.2" fill="#64a342"/>
<circle cx="108.36" cy="305.21" r="2.2" fill="#64a342"/>
<circle cx="130.44" cy="298.93" r="2.2" fill="#64a342"/>
<circle cx="152.52" cy="258.24" r="2.2" fill="#64a342"/>
<circle cx="174.6" cy="256.59" r="2.2" fill="#64a342"/>
<circle cx="196.68" cy="276.77" r="2.2" fill="#64a342"/>
<circle cx="218.76" cy="296.94" r="2.2" fill="#64a342"/>
<circle cx="240.84" cy="308.19" r="2.2" fill="#64a342"/>
<circle cx="146.52" cy="218.9" r="1.3" fill="#151515"/>
<circle cx="150.52" cy="218.9" r="1.3" fill="#151515"/>
<circle cx="154.52" cy="218.9" r="1.3" fill="#151515"/>
<circle cx="158.52" cy="218.9" r="1.3" fill="#151515"/>
<text x="152.52" y="230.82" font-size="8.4" text-anchor="middle" textLength="17.4" lengthAdjust="spacingAndGlyphs" fill="#1a1a1a" stroke="#1a1a1a" stroke-width="0.25" font-style="italic" font-weight="bold">####</text>
<circle cx="168.6" cy="226.9" r="1.3" fill="#151515"/>
<circle cx="172.6" cy="226.9" r="1.3" fill="#151515"/>
<circle cx="176.6" cy="226.9" r="1.3" fill="#151515"/>
<circle cx="180.6" cy="226.9" r="1.3" fill="#151515"/>
<text x="174.6" y="238.92" font-size="8.4" text-anchor="middle" textLength="17.4" lengthAdjust="spacingAndGlyphs" fill="#1a1a1a" stroke="#1a1a1a" stroke-width="0.25" font-style="italic" font-weight="bold">####</text>
<circle cx="190.68" cy="249.8" r="1.3" fill="#151515"/>
<circle cx="194.68" cy="249.8" r="1.3" fill="#151515"/>
<circle cx="198.68" cy="249.8" r="1.3" fill="#151515"/>
<circle cx="202.68" cy="249.8" r="1.3" fill="#151515"/>
<text x="196.68" y="262.02" font-size="8.4" text-anchor="middle" textLength="17.4" lengthAdjust="spacingAndGlyphs" fill="#1a1a1a" stroke="#1a1a1a" stroke-width="0.25" font-style="italic" font-weight="bold">####</text>
<circle cx="218.76" cy="274.3" r="1.3" fill="#151515"/>
<text x="218.76" y="286.72" font-size="8.4" text-anchor="middle" textLength="8.6" lengthAdjust="spacingAndGlyphs" fill="#1a1a1a" stroke="#1a1a1a" stroke-width="0.25" font-style="italic" font-weight="bold">##</text>
<line x1="216" y1="208.1" x2="230.8" y2="208.1" stroke="#821735" stroke-width="1.8" stroke-linecap="butt"/>
<polygon points="223.2,205.2 226.1,210.28 220.3,210.28" fill="#821735"/>
<text x="234" y="210.8" font-size="9.2" text-anchor="start" textLength="42" lengthAdjust="spacingAndGlyphs" stroke="#262626" stroke-width="0.25" >WT + Blood</text>
<line x1="216" y1="220.1" x2="230.8" y2="220.1" stroke="#243f5e" stroke-width="1.8" stroke-linecap="butt"/>
<rect x="221.22" y="218.12" width="3.96" height="3.96" fill="#243f5e"/>
<text x="234" y="222.8" font-size="9.2" text-anchor="start" textLength="32.3" lengthAdjust="spacingAndGlyphs" stroke="#262626" stroke-width="0.25" >WT + NS</text>
<line x1="216" y1="231.7" x2="230.8" y2="231.7" stroke="#66964a" stroke-width="1.8" stroke-linecap="butt"/>
<circle cx="223.2" cy="231.7" r="2.2" fill="#66964a"/>
<text x="234" y="234.4" font-size="9.2" text-anchor="start" textLength="23.7" lengthAdjust="spacingAndGlyphs" stroke="#262626" stroke-width="0.25" >F9-KO</text>
<rect x="0" y="0" width="520" height="1.7" fill="#000"/>
<rect x="0" y="0" width="1.5" height="379" fill="#000"/>
<rect x="518.1" y="0" width="1.9" height="379" fill="#000"/>
<rect x="0" y="377.1" width="520" height="1.9" fill="#000"/>
</svg></body></html>
